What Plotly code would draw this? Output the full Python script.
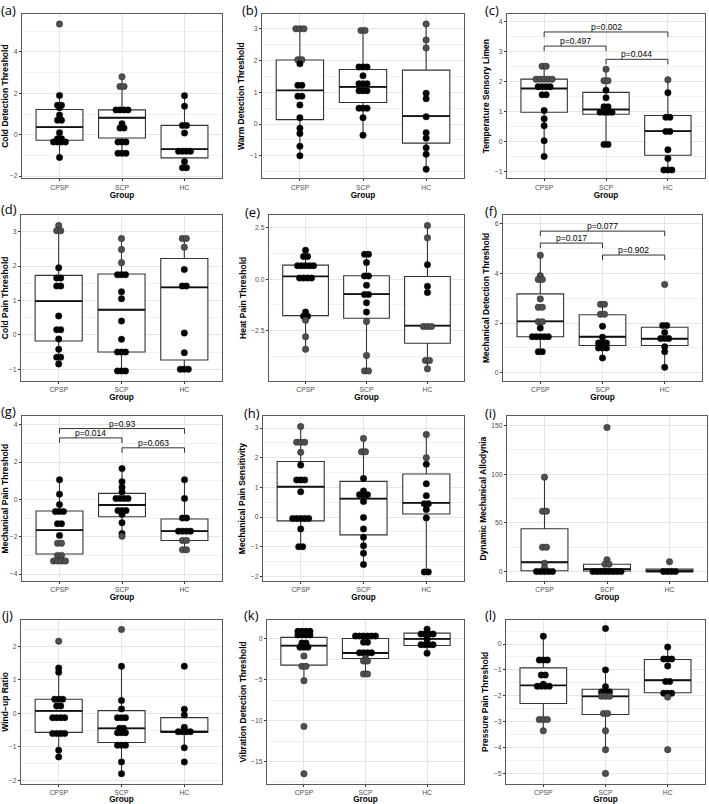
import plotly.graph_objects as go

W, H = 709, 804
groups = ["CPSP", "SCP", "HC"]
group_x = [1, 2, 3]

# ---------------- data ----------------
# (a) Cold Detection Threshold
cdt_cpsp = [5.35, 1.9, 1.42, 1.42, 1.3, 0.95, 0.7, 0.7, 0.1, -0.2, -0.2, -0.35, -0.35, -0.35, -0.35, -1.1]
cdt_scp = [2.8, 2.33, 2.33, 1.2, 1.2, 1.2, 1.2, 0.53, 0.32, 0.32, -0.35, -0.35, -0.35, -0.9, -0.9, -0.9]
cdt_hc = [1.89, 1.38, 0.45, 0.45, 0.08, -0.8, -0.8, -0.8, -0.8, -1.3, -1.6, -1.6]
cdt_lower = [-1.1, -0.91, -1.63]
cdt_q1 = [-0.27, -0.16, -1.12]
cdt_median = [0.37, 0.82, -0.7]
cdt_q3 = [1.22, 1.2, 0.45]
cdt_upper = [1.9, 2.82, 1.89]

# (b) Warm Detection Threshold
wdt_cpsp = [3.0, 3.0, 3.0, 2.03, 2.03, 1.9, 1.22, 1.22, 0.88, 0.88, 0.6, 0.2, -0.13, -0.3, -0.7, -1.0]
wdt_scp = [2.95, 2.95, 1.8, 1.8, 1.8, 1.52, 1.27, 1.27, 1.27, 1.05, 1.05, 1.05, 0.5, 0.5, 0.5, 0.2, -0.35]
wdt_hc = [3.15, 2.65, 2.4, 0.97, 0.8, 0.23, -0.27, -0.45, -0.75, -0.95, -1.42]
wdt_lower = [-1.0, -0.35, -1.42]
wdt_q1 = [0.14, 0.68, -0.6]
wdt_median = [1.06, 1.17, 0.25]
wdt_q3 = [2.02, 1.72, 1.7]
wdt_upper = [3.0, 2.95, 3.15]

# (c) Temperature Sensory Limen
tsl_cpsp = [2.5, 2.5, 2.07, 2.07, 2.07, 2.07, 2.07, 1.82, 1.82, 1.82, 1.82, 1.55, 1.55, 1.03, 0.75, 0.52, 0.02, -0.5]
tsl_scp = [2.4, 2.02, 2.02, 1.7, 1.45, 1.15, 1.15, 0.97, 0.97, 0.97, 0.97, -0.1, -0.1]
tsl_hc = [2.05, 1.62, 0.8, 0.8, 0.33, 0.33, -0.28, -0.57, -0.95, -0.95, -0.95]
tsl_lower = [-0.5, -0.1, -0.95]
tsl_q1 = [0.97, 0.9, -0.46]
tsl_median = [1.76, 1.06, 0.34]
tsl_q3 = [2.07, 1.63, 0.86]
tsl_upper = [2.5, 2.4, 2.05]

# (d) Cold Pain Threshold
cpt_cpsp = [3.18, 3.03, 3.03, 1.95, 1.65, 1.65, 1.42, 1.42, 0.55, 0.15, 0.15, -0.12, -0.42, -0.65, -0.65, -0.85]
cpt_scp = [2.8, 2.48, 2.1, 1.75, 1.75, 1.75, 1.25, 1.05, 0.4, -0.13, -0.5, -0.5, -0.5, -1.05, -1.05, -1.05]
cpt_hc = [2.8, 2.8, 2.55, 1.9, 1.42, 1.42, 0.05, -0.52, -1.0, -1.0, -1.0]
cpt_lower = [-0.85, -1.05, -1.0]
cpt_q1 = [-0.18, -0.5, -0.73]
cpt_median = [0.98, 0.73, 1.38]
cpt_q3 = [1.73, 1.77, 2.22]
cpt_upper = [3.18, 2.8, 2.8]

# (e) Heat Pain Threshold
hpt_cpsp = [1.4, 1.1, 1.1, 0.65, 0.65, 0.65, 0.65, 0.65, 0.05, 0.05, 0.05, 0.05, -1.6, -1.8, -1.8, -2.0, -2.8, -3.4]
hpt_scp = [1.2, 1.2, 0.8, 0.15, 0.15, -0.3, -0.75, -0.75, -1.15, -1.6, -2.05, -3.7, -4.45, -4.45]
hpt_hc = [2.6, 2.0, 0.7, -0.35, -0.65, -2.3, -2.3, -2.3, -3.95, -3.95, -4.35]
hpt_lower = [-3.4, -4.45, -4.35]
hpt_q1 = [-1.77, -1.9, -3.11]
hpt_median = [0.13, -0.73, -2.26]
hpt_q3 = [0.68, 0.16, 0.13]
hpt_upper = [1.4, 1.2, 2.6]

# (f) Mechanical Detection Threshold
mdt_cpsp = [4.72, 3.9, 3.75, 3.75, 2.97, 2.63, 2.63, 2.05, 2.05, 1.8, 1.45, 1.45, 1.45, 1.45, 1.45, 0.85, 0.85]
mdt_scp = [2.75, 2.75, 2.35, 2.35, 1.87, 1.43, 1.2, 1.2, 1.2, 1.0, 1.0, 1.0, 0.6]
mdt_hc = [3.55, 1.9, 1.9, 1.62, 1.38, 1.38, 1.38, 1.05, 0.85, 0.22]
mdt_lower = [0.85, 0.6, 0.22]
mdt_q1 = [1.45, 1.1, 1.1]
mdt_median = [2.07, 1.45, 1.37]
mdt_q3 = [3.17, 2.33, 1.83]
mdt_upper = [4.72, 2.75, 1.9]

# (g) Mechanical Pain Threshold
mpt_cpsp = [1.05, 0.28, -0.28, -0.65, -0.65, -0.65, -1.3, -1.3, -1.93, -2.35, -2.35, -3.0, -3.0, -3.3, -3.3, -3.3, -3.3]
mpt_scp = [1.65, 0.95, 0.65, 0.4, 0.05, 0.05, 0.05, 0.05, -0.6, -0.6, -0.6, -0.8, -1.25, -1.83, -1.97]
mpt_hc = [1.05, 0.05, -1.0, -1.0, -1.7, -1.7, -1.7, -1.7, -2.2, -2.2, -2.7, -2.7]
mpt_lower = [-3.3, -1.97, -2.7]
mpt_q1 = [-2.92, -0.93, -2.2]
mpt_median = [-1.65, -0.3, -1.7]
mpt_q3 = [-0.62, 0.32, -1.05]
mpt_upper = [1.05, 1.65, 1.05]

# (h) Mechanical Pain Sensitivity
mps_cpsp = [3.05, 2.52, 2.52, 2.52, 2.18, 1.75, 1.25, 1.25, 1.25, 0.85, -0.05, -0.05, -0.05, -0.05, -0.05, -0.4, -1.0, -1.0]
mps_scp = [2.65, 2.2, 2.2, 1.3, 0.88, 0.75, 0.75, 0.75, 0.52, -0.02, -0.4, -0.68, -0.97, -1.22, -1.6]
mps_hc = [2.78, 2.0, 1.78, 1.12, 0.72, 0.45, 0.45, 0.25, -0.03, -1.85, -1.85]
mps_lower = [-1.0, -1.6, -1.85]
mps_q1 = [-0.13, -0.6, 0.1]
mps_median = [1.02, 0.62, 0.48]
mps_q3 = [1.87, 1.2, 1.45]
mps_upper = [3.05, 2.65, 2.78]

# (i) Dynamic Mechanical Allodynia
dma_cpsp = [97, 62, 62, 25, 25, 8.5, 3.5, 0, 0, 0, 0, 0]
dma_scp = [148, 12, 7.5, 7.5, 0, 0, 0, 0, 0, 0, 0, 0]
dma_hc = [10, 0, 0, 0, 0]
dma_lower = [0, 0, 0]
dma_q1 = [0.7, 0.5, 0]
dma_median = [9.5, 2.5, 0]
dma_q3 = [44, 7.5, 2.4]
dma_upper = [97, 12, 2.4]

# (j) Wind-up Ratio
wur_cpsp = [2.15, 1.35, 1.22, 0.42, 0.42, 0.42, 0.22, 0.22, -0.13, -0.13, -0.13, -0.13, -0.6, -0.6, -0.6, -0.6, -1.1, -1.3]
wur_scp = [2.5, 1.4, 0.38, 0.13, -0.13, -0.13, -0.13, -0.45, -0.45, -0.58, -0.58, -0.58, -0.95, -0.95, -0.95, -1.45, -1.8]
wur_hc = [1.4, 0.12, -0.05, -0.42, -0.55, -0.55, -0.55, -0.55, -1.03, -1.45]
wur_lower = [-1.3, -1.8, -1.03]
wur_q1 = [-0.57, -0.87, -0.57]
wur_median = [0.07, -0.45, -0.55]
wur_q3 = [0.42, 0.08, -0.13]
wur_upper = [1.36, 1.4, 0.12]

# (k) Vibration Detection Threshold
vdt_cpsp = [0.93, 0.93, 0.93, 0.93, 0.5, 0.5, 0.5, 0.5, -0.5, -0.5, -1.0, -1.0, -1.0, -2.1, -3.35, -3.35, -5.1, -10.7, -16.5]
vdt_scp = [0.35, 0.35, 0.35, 0.35, 0.35, 0.35, -0.4, -0.4, -1.7, -1.7, -1.7, -1.7, -2.4, -2.7, -2.7, -4.3, -4.3]
vdt_hc = [1.2, 0.6, 0.6, 0.6, 0.6, 0.1, -0.05, -0.7, -0.7, -0.7, -0.7, -1.75]
vdt_lower = [-5.1, -4.3, -1.75]
vdt_q1 = [-3.2, -2.4, -0.8]
vdt_median = [-0.81, -1.72, 0.0]
vdt_q3 = [0.2, 0.05, 0.72]
vdt_upper = [0.93, 0.35, 1.2]

# (l) Pressure Pain Threshold
ppt_cpsp = [0.3, -0.62, -0.62, -0.62, -1.2, -1.2, -1.55, -1.63, -1.63, -1.63, -1.63, -2.92, -2.92, -2.92, -3.35]
ppt_scp = [0.6, -1.0, -1.65, -1.85, -1.85, -1.85, -2.02, -2.02, -2.02, -2.68, -2.68, -3.35, -4.08, -5.0]
ppt_hc = [-0.12, -0.58, -0.58, -0.58, -0.85, -1.45, -1.45, -1.9, -1.9, -1.9, -2.05, -4.08]
ppt_lower = [-3.35, -4.08, -2.05]
ppt_q1 = [-2.3, -2.72, -1.88]
ppt_median = [-1.6, -2.02, -1.4]
ppt_q3 = [-0.92, -1.75, -0.6]
ppt_upper = [0.3, -1.0, -0.12]

# Pairwise comparisons: (group i, group j, bracket level, label)
tsl_pvals = [(1, 3, 3.64, "p=0.002"), (1, 2, 3.17, "p=0.497"), (2, 3, 2.73, "p=0.044")]
mdt_pvals = [(1, 3, 5.69, "p=0.077"), (1, 2, 5.21, "p=0.017"), (2, 3, 4.73, "p=0.902")]
mpt_pvals = [(1, 3, 3.79, "p=0.93"), (1, 2, 3.29, "p=0.014"), (2, 3, 2.76, "p=0.063")]

ABNORMAL = 1.96

# ---------------- panel layout ----------------
panels = [
    dict(letter="(a)", title="Cold Detection Threshold", dots=[cdt_cpsp, cdt_scp, cdt_hc],
         box=[cdt_lower, cdt_q1, cdt_median, cdt_q3, cdt_upper], yr=[-2.11, 5.84], ticks=[-2, 0, 2, 4],
         px=(22, 222, 14, 179), lab=(0, 0)),
    dict(letter="(b)", title="Warm Detection Threshold", dots=[wdt_cpsp, wdt_scp, wdt_hc],
         box=[wdt_lower, wdt_q1, wdt_median, wdt_q3, wdt_upper], yr=[-1.71, 3.47], ticks=[-1, 0, 1, 2, 3],
         px=(262, 464, 14, 179), lab=(241, 0)),
    dict(letter="(c)", title="Temperature Sensory Limen", dots=[tsl_cpsp, tsl_scp, tsl_hc],
         box=[tsl_lower, tsl_q1, tsl_median, tsl_q3, tsl_upper], yr=[-1.23, 4.24], ticks=[-1, 0, 1, 2, 3, 4],
         px=(507, 705, 14, 179), lab=(484, 0)),
    dict(letter="(d)", title="Cold Pain Threshold", dots=[cpt_cpsp, cpt_scp, cpt_hc],
         box=[cpt_lower, cpt_q1, cpt_median, cpt_q3, cpt_upper], yr=[-1.33, 3.48], ticks=[-1, 0, 1, 2, 3],
         px=(21, 222, 216, 382), lab=(0, 200)),
    dict(letter="(e)", title="Heat Pain Threshold", dots=[hpt_cpsp, hpt_scp, hpt_hc],
         box=[hpt_lower, hpt_q1, hpt_median, hpt_q3, hpt_upper], yr=[-4.92, 3.1], ticks=[-2.5, 0, 2.5], fmt=".1f",
         px=(269, 464, 216, 382), lab=(244, 203)),
    dict(letter="(f)", title="Mechanical Detection Threshold", dots=[mdt_cpsp, mdt_scp, mdt_hc],
         box=[mdt_lower, mdt_q1, mdt_median, mdt_q3, mdt_upper], yr=[-0.31, 6.33], ticks=[0, 2, 4, 6],
         px=(503, 702, 216, 382), lab=(484, 202)),
    dict(letter="(g)", title="Mechanical Pain Threshold", dots=[mpt_cpsp, mpt_scp, mpt_hc],
         box=[mpt_lower, mpt_q1, mpt_median, mpt_q3, mpt_upper], yr=[-4.36, 4.44], ticks=[-4, -2, 0, 2, 4],
         px=(22, 222, 418, 583), lab=(0, 403)),
    dict(letter="(h)", title="Mechanical Pain Sensitivity", dots=[mps_cpsp, mps_scp, mps_hc],
         box=[mps_lower, mps_q1, mps_median, mps_q3, mps_upper], yr=[-2.15, 3.39], ticks=[-2, -1, 0, 1, 2, 3],
         px=(263, 464, 418, 583), lab=(243, 405)),
    dict(letter="(i)", title="Dynamic Mechanical Allodynia", dots=[dma_cpsp, dma_scp, dma_hc],
         box=[dma_lower, dma_q1, dma_median, dma_q3, dma_upper], yr=[-9.6, 159.4], ticks=[0, 50, 100, 150],
         px=(507, 707, 418, 583), lab=(484, 405)),
    dict(letter="(j)", title="Wind\u2212up Ratio", dots=[wur_cpsp, wur_scp, wur_hc],
         box=[wur_lower, wur_q1, wur_median, wur_q3, wur_upper], yr=[-2.11, 2.79], ticks=[-2, -1, 0, 1, 2],
         px=(21, 222, 622, 787), lab=(1, 607)),
    dict(letter="(k)", title="Vibration Detection Threshold", dots=[vdt_cpsp, vdt_scp, vdt_hc],
         box=[vdt_lower, vdt_q1, vdt_median, vdt_q3, vdt_upper], yr=[-17.76, 2.36], ticks=[-15, -10, -5, 0],
         px=(267, 464, 622, 787), lab=(243, 607)),
    dict(letter="(l)", title="Pressure Pain Threshold", dots=[ppt_cpsp, ppt_scp, ppt_hc],
         box=[ppt_lower, ppt_q1, ppt_median, ppt_q3, ppt_upper], yr=[-5.41, 0.94], ticks=[-5, -4, -3, -2, -1, 0],
         px=(506, 705, 622, 787), lab=(484, 607)),
]
panels[2]["pv"] = tsl_pvals
panels[5]["pv"] = mdt_pvals
panels[6]["pv"] = mpt_pvals

XR = [0.4, 3.6]
DOT_SIZE = 6.5
DOT_STEP_PX = 4.0
BRACKET_TICK_PX = 5
FONT = "Liberation Sans, Arial, sans-serif"

fig = go.Figure()
layout = dict(
    width=W, height=H, margin=dict(l=0, r=0, t=0, b=0),
    paper_bgcolor="white", plot_bgcolor="white", showlegend=False,
    font=dict(family=FONT, color="#000"),
)
annotations = []

for i, p in enumerate(panels, start=1):
    xs = "x" if i == 1 else f"x{i}"
    ys = "y" if i == 1 else f"y{i}"
    x0, x1, t0, t1 = p["px"]
    ppu_x = (x1 - x0) / (XR[1] - XR[0])
    ppu_y = (t1 - t0) / (p["yr"][1] - p["yr"][0])

    lo, q1, med, q3, hi = p["box"]
    fig.add_trace(go.Box(
        x=group_x, q1=q1, median=med, q3=q3, lowerfence=lo, upperfence=hi,
        width=0.75, whiskerwidth=0, boxpoints=False, fillcolor="white",
        line=dict(color="#333333", width=1.1), xaxis=xs, yaxis=ys, hoverinfo="skip",
    ))
    # heavier median bar (as ggplot's fattened median)
    fig.add_trace(go.Box(
        x=group_x, q1=med, median=med, q3=med, lowerfence=med, upperfence=med,
        width=0.75, whiskerwidth=0, boxpoints=False, fillcolor="rgba(0,0,0,0)",
        line=dict(color="#111111", width=1.8), xaxis=xs, yaxis=ys, hoverinfo="skip",
    ))

    # centred dot stacks (dot-plot style)
    dx, dy, dc = [], [], []
    step = DOT_STEP_PX / ppu_x
    for gx, vals in zip(group_x, p["dots"]):
        rows = {}
        for v in vals:
            rows.setdefault(round(v, 3), []).append(v)
        for v, members in rows.items():
            k = len(members)
            for j in range(k):
                dx.append(gx + (j - (k - 1) / 2) * step)
                dy.append(v)
                dc.append("#4f4f4f" if abs(v) > ABNORMAL else "#000000")
    fig.add_trace(go.Scatter(
        x=dx, y=dy, mode="markers", xaxis=xs, yaxis=ys, hoverinfo="skip",
        marker=dict(size=DOT_SIZE, color=dc, line=dict(width=0.4, color="#1a1a1a")),
    ))

    # significance brackets
    if p.get("pv"):
        bx, by = [], []
        tick = BRACKET_TICK_PX / ppu_y
        for ga, gb, lvl, txt in p["pv"]:
            bx += [ga, ga, gb, gb, None]
            by += [lvl - tick, lvl, lvl, lvl - tick, None]
            annotations.append(dict(
                x=(ga + gb) / 2, y=lvl, xref=xs, yref=ys, text=txt, showarrow=False,
                yanchor="bottom", xanchor="center", yshift=-2,
                font=dict(size=8.5, family=FONT, color="#000"),
            ))
        fig.add_trace(go.Scatter(
            x=bx, y=by, mode="lines", xaxis=xs, yaxis=ys, hoverinfo="skip",
            line=dict(color="#333333", width=1),
        ))

    ticks = p["ticks"]
    stp = ticks[1] - ticks[0]
    minor = [ticks[0] - stp / 2 + k * stp for k in range(len(ticks) + 1)]
    minor = [m for m in minor if p["yr"][0] < m < p["yr"][1]]

    layout["xaxis" if i == 1 else f"xaxis{i}"] = dict(
        domain=[x0 / W, x1 / W], anchor=ys, range=XR, tickvals=group_x, ticktext=groups,
        showgrid=True, gridcolor="#e6e6e6", gridwidth=1, zeroline=False,
        showline=True, mirror=True, linecolor="#5a5a5a", linewidth=1.2,
        ticks="outside", ticklen=2, tickwidth=0.8, tickcolor="#333333",
        tickfont=dict(size=6.8, color="#4d4d4d", family=FONT),
        title=dict(text="Group", standoff=2, font=dict(size=8.2, family=FONT, color="#000", weight="bold")),
        fixedrange=True,
    )
    layout["yaxis" if i == 1 else f"yaxis{i}"] = dict(
        domain=[1 - t1 / H, 1 - t0 / H], anchor=xs, range=p["yr"], tickvals=ticks,
        tickformat=p.get("fmt", ""),
        showgrid=True, gridcolor="#e6e6e6", gridwidth=1, zeroline=False,
        minor=dict(tickvals=minor, showgrid=True, gridcolor="#f1f1f1", gridwidth=0.6, ticks=""),
        showline=True, mirror=True, linecolor="#5a5a5a", linewidth=1.2,
        ticks="outside", ticklen=2, tickwidth=0.8, tickcolor="#333333",
        tickfont=dict(size=6.8, color="#4d4d4d", family=FONT),
        title=dict(text=p["title"], standoff=3, font=dict(size=8.5, family=FONT, color="#000", weight="bold")),
        fixedrange=True,
    )

    lx, ly = p["lab"]
    annotations.append(dict(
        x=lx / W, y=1 - ly / H, xref="paper", yref="paper", text=p["letter"], showarrow=False,
        xanchor="left", yanchor="top", borderpad=0,
        font=dict(size=13, family="Open Sans, sans-serif", color="#000"),
    ))

layout["annotations"] = annotations
fig.update_layout(**layout)
fig.write_html("out.html")
